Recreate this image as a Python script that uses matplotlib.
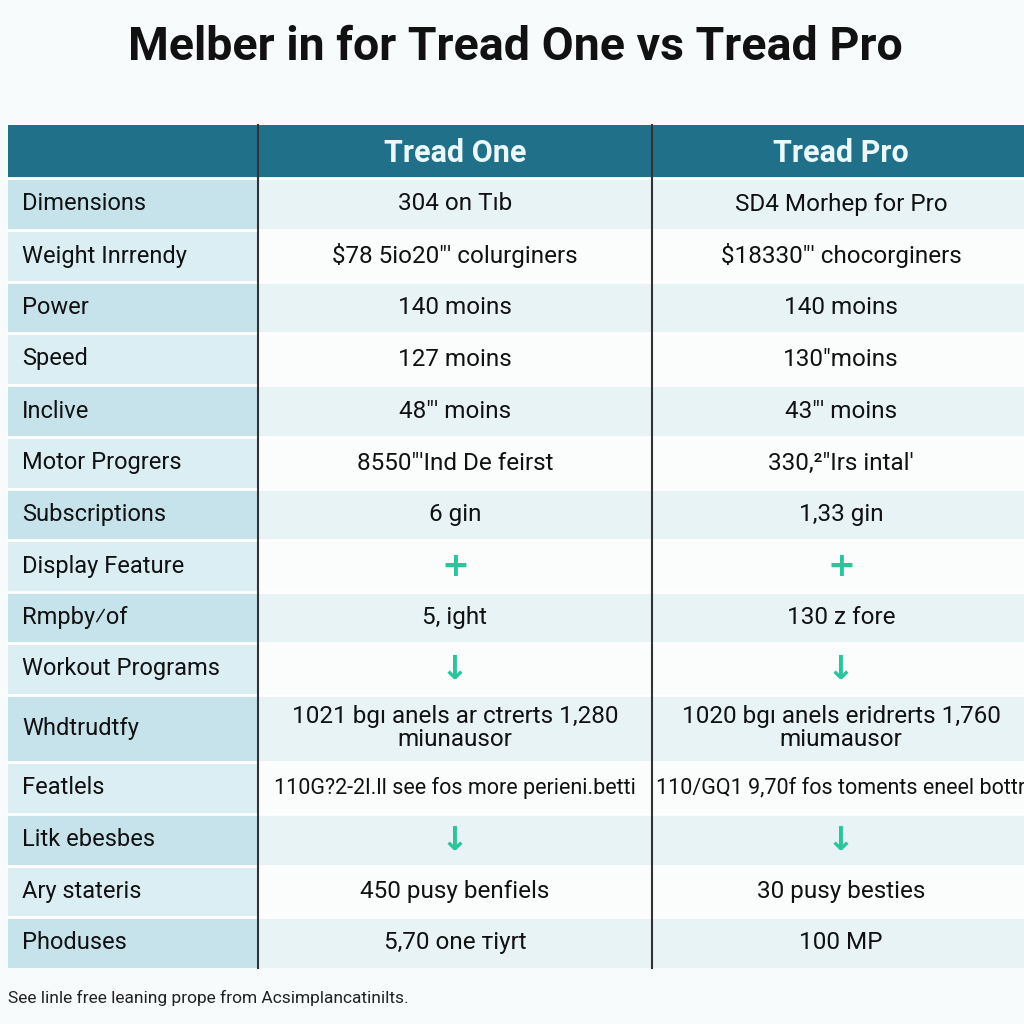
import matplotlib.pyplot as plt
from matplotlib.patches import Rectangle

title = "Melber in for Tread One vs Tread Pro"
columns = ["Tread One", "Tread Pro"]
features = ["Dimensions", "Weight Inrrendy", "Power", "Speed", "Inclive",
            "Motor Progrers", "Subscriptions", "Display Feature", "Rmpby\u2044of",
            "Workout Programs", "Whdtrudtfy", "Featlels", "Litk ebesbes",
            "Ary stateris", "Phoduses"]
tread_one = ["304 on T\u0131b", "$78 5io20\"' colurginers", "140 moins", "127 moins",
             "48\"' moins", "8550\"'Ind De feirst", "6 gin", "+", "5, ight", "\u2193",
             "1021 bg\u0131 anels ar ctrerts 1,280\nmiunausor",
             "110G?2-2I.ll see fos more perieni.betti", "\u2193",
             "450 pusy benfiels", "5,70 one \u0442iyrt"]
tread_pro = ["SD4 Morhep for Pro", "$18330\"' chocorginers", "140 moins", "130\"moins",
             "43\"' moins", "330,\u00b2\"Irs intal'", "1,33 gin", "+", "130 z fore", "\u2193",
             "1020 bg\u0131 anels eridrerts 1,760\nmiumausor",
             "110/GQ1 9,70f fos toments eneel bottr", "\u2193",
             "30 pusy besties", "100 MP"]
footer = "See linle free leaning prope from Acsimplancatinilts."

# layout (pixels)
col_edges = [8, 258, 652, 1030]
header_top, header_bot = 125, 178
row_h = [52, 52, 51, 52, 52, 52, 51, 52, 51, 52, 67, 52, 52, 51, 51]

fig = plt.figure(figsize=(10.24, 10.24), dpi=100)
fig.patch.set_facecolor("#f8fbfc")
ax = fig.add_axes([0, 0, 1, 1])
ax.set_xlim(0, 1024)
ax.set_ylim(1024, 0)
ax.axis("off")

head_col = "#21708a"
lab_dark, lab_light = "#c6e3ec", "#dbeef4"
cell_dark, cell_light = "#e8f3f6", "#fbfdfd"
mark_col = "#2cc49b"
font = ["Roboto", "DejaVu Sans"]

ax.text(515, 47, title, ha="center", va="center", fontsize=33.5, fontweight="bold",
        family=font, color="#111111")

# header
ax.add_patch(Rectangle((col_edges[0], header_top), col_edges[-1] - col_edges[0],
                       header_bot - header_top, color=head_col, lw=0))
for i, name in enumerate(columns):
    xc = (col_edges[i + 1] + col_edges[i + 2]) / 2
    ax.text(xc, (header_top + header_bot) / 2 + 2, name, ha="center", va="center",
            fontsize=22, fontweight="bold", color="#eafafc", family=font)

y = header_bot
for r, (feat, v1, v2) in enumerate(zip(features, tread_one, tread_pro)):
    h = row_h[r]
    even = r % 2 == 0
    ax.add_patch(Rectangle((col_edges[0], y), col_edges[1] - col_edges[0], h,
                           color=lab_dark if even else lab_light, lw=0))
    ax.add_patch(Rectangle((col_edges[1], y), col_edges[-1] - col_edges[1], h,
                           color=cell_dark if even else cell_light, lw=0))
    ax.plot([col_edges[0], col_edges[-1]], [y, y], color="white", lw=2)
    yc = y + h / 2
    ax.text(22, yc, feat, ha="left", va="center", fontsize=17, color="#111111",
            family=font)
    for i, v in enumerate([v1, v2]):
        xc = (col_edges[i + 1] + col_edges[i + 2]) / 2
        if v in ("+", "\u2193"):
            ax.text(xc, yc, v, ha="center", va="center", fontsize=24, fontweight="bold",
                    color=mark_col, family=["DejaVu Sans"])
        else:
            fs = 15.5 if len(v) > 30 and "\n" not in v else 17.5
            ax.text(xc, yc, v, ha="center", va="center", fontsize=fs, color="#111111",
                    family=font, linespacing=1.0)
    y += h

for x in col_edges[1:3]:
    ax.plot([x, x], [header_top, y], color="#333333", lw=1.5)

ax.text(8, 998, footer, ha="left", va="center", fontsize=12.5, color="#222222",
        family=font)

fig.savefig("out.png", dpi=100, facecolor=fig.get_facecolor())
